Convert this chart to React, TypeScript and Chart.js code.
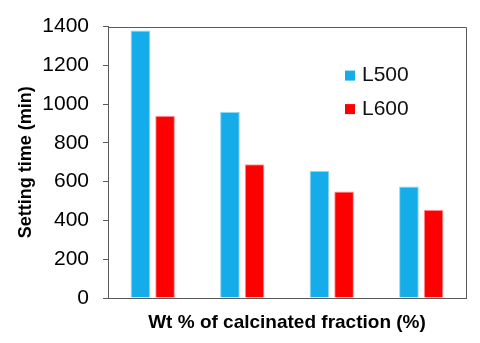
import React, { useEffect, useRef } from "react";
import { Chart, registerables } from "chart.js";

Chart.register(...registerables);

const categories = ["1", "2", "3", "4"];
const seriesNames = ["L500", "L600"];
const l500Values = [1380, 960, 655, 575];
const l600Values = [940, 690, 550, 455];
const yTicks = [0, 200, 400, 600, 800, 1000, 1200, 1400];
const yTitle = "Setting time (min)";
const xTitle = "Wt % of calcinated fraction (%)";

const FONT = "'Liberation Sans', Arial, Helvetica, sans-serif";
const AXIS_COLOR = "#595959";

const boxAndLegend = {
  id: "boxAndLegend",
  afterDraw(chart: any) {
    const { ctx, chartArea } = chart;
    ctx.save();
    // top and right frame lines
    ctx.strokeStyle = AXIS_COLOR;
    ctx.lineWidth = 1;
    ctx.beginPath();
    ctx.moveTo(Math.round(chartArea.left) + 0.5, Math.round(chartArea.top) + 0.5);
    ctx.lineTo(Math.round(chartArea.right) + 0.5, Math.round(chartArea.top) + 0.5);
    ctx.lineTo(Math.round(chartArea.right) + 0.5, Math.round(chartArea.bottom) + 0.5);
    ctx.stroke();
    // legend inside plot area
    const x0 = chartArea.left + 237;
    const baselines = [chartArea.top + 54.5, chartArea.top + 88];
    ctx.font = `21px ${FONT}`;
    ctx.textBaseline = "alphabetic";
    ctx.textAlign = "left";
    chart.data.datasets.forEach((ds: any, i: number) => {
      const b = baselines[i];
      ctx.fillStyle = ds.backgroundColor;
      ctx.fillRect(x0, b - 10.5, 10, 10);
      ctx.fillStyle = "#111";
      ctx.fillText(ds.label, x0 + 17, b);
    });
    ctx.restore();
  },
};

export default function App() {
  const ref = useRef<HTMLCanvasElement | null>(null);
  useEffect(() => {
    if (!ref.current) return;
    const chart = new Chart(ref.current, {
      type: "bar",
      data: {
        labels: categories,
        datasets: [
          {
            label: seriesNames[0],
            data: l500Values,
            backgroundColor: "#14ade9",
            borderColor: "#8fd6f4",
            borderWidth: 1,
            categoryPercentage: 0.55,
            barPercentage: 0.8,
          },
          {
            label: seriesNames[1],
            data: l600Values,
            backgroundColor: "#ff0000",
            borderColor: "#ff9a9a",
            borderWidth: 1,
            categoryPercentage: 0.55,
            barPercentage: 0.8,
          },
        ],
      },
      options: {
        animation: false,
        responsive: false,
        maintainAspectRatio: false,
        layout: { padding: { left: 15, right: 14, top: 25, bottom: 0 } },
        plugins: { legend: { display: false }, tooltip: { enabled: false } },
        scales: {
          x: {
            grid: { display: false },
            border: { display: true, color: AXIS_COLOR, width: 1 },
            ticks: { display: false },
            title: {
              display: true,
              text: xTitle,
              color: "#000",
              font: { family: FONT, size: 19, weight: "bold" },
              padding: { top: 0, bottom: 9 },
            },
            afterFit: (scale: any) => {
              scale.height = 45;
            },
          },
          y: {
            min: 0,
            max: 1400,
            afterBuildTicks: (scale: any) => {
              scale.ticks = yTicks.map((v) => ({ value: v }));
            },
            ticks: {
              stepSize: 200,
              padding: 14,
              color: "#000",
              font: { family: FONT, size: 21 },
              callback: (v: any) => String(v),
            },
            grid: {
              display: true,
              drawOnChartArea: false,
              drawTicks: true,
              tickLength: 5,
              color: AXIS_COLOR,
            },
            border: { display: true, color: AXIS_COLOR, width: 1 },
            title: {
              display: true,
              text: yTitle,
              color: "#000",
              font: { family: FONT, size: 18, weight: "bold" },
              padding: { top: 0, bottom: 0 },
            },
            afterFit: (scale: any) => {
              scale.width = 93;
            },
          },
        },
      },
      plugins: [boxAndLegend],
    });
    return () => chart.destroy();
  }, []);
  return (
    <div style={{ position: "absolute", left: 0, top: 0, width: 480, height: 343, background: "#fff" }}>
      <canvas ref={ref} width={480} height={343} style={{ display: "block" }} />
    </div>
  );
}
